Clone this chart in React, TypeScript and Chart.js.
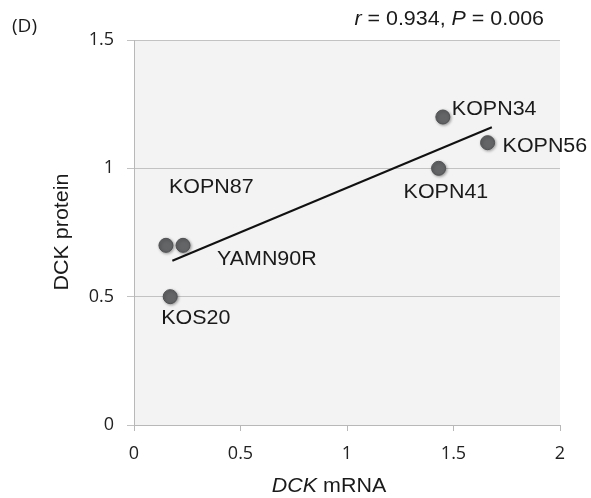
import React, { useEffect, useRef } from "react";
import { Chart, registerables } from "chart.js";

Chart.register(...registerables);

// Cell lines and their DCK expression levels
const cellLines = ["KOPN87", "YAMN90R", "KOS20", "KOPN41", "KOPN34", "KOPN56"];
const dckMrna = [0.15, 0.23, 0.17, 1.43, 1.45, 1.66];
const dckProtein = [0.7, 0.7, 0.5, 1.0, 1.2, 1.1];

// Least-squares fit line end points
const fitMrna = [0.18, 1.68];
const fitProtein = [0.64, 1.16];

// Axis ticks
const xTicks = [0, 0.5, 1, 1.5, 2];
const yTicks = [0, 0.5, 1, 1.5];

// Correlation statistics
const statR = "0.934";
const statP = "0.006";

// Label placement relative to each point (px: left edge, vertical centre)
const labelOffsets: [number, number][] = [
  [3, -58],
  [34, 14],
  [-9, 21.5],
  [-35, 24],
  [9, -7],
  [15, 4],
];

const SANS = '"Liberation Sans", Arial, sans-serif';
const TICK_FONT = '"Open Sans", sans-serif';
const STRETCH = 1.1;

type Piece = { text: string; italic?: boolean };

function drawPieces(
  ctx: CanvasRenderingContext2D,
  pieces: Piece[],
  x: number,
  y: number,
  size: number,
  align: "left" | "center" | "right"
) {
  const fontFor = (p: Piece) => `${p.italic ? "italic " : ""}${size}px ${SANS}`;
  let total = 0;
  for (const p of pieces) {
    ctx.font = fontFor(p);
    total += ctx.measureText(p.text).width;
  }
  let start = 0;
  if (align === "center") start = -total / 2;
  else if (align === "right") start = -total;
  ctx.save();
  ctx.translate(x, y);
  ctx.scale(STRETCH, 1);
  ctx.textAlign = "left";
  ctx.textBaseline = "middle";
  let cx = start;
  for (const p of pieces) {
    ctx.font = fontFor(p);
    ctx.fillText(p.text, cx, 0);
    cx += ctx.measureText(p.text).width;
  }
  ctx.restore();
}

const textPlugin = {
  id: "annotations",
  beforeDraw(chart: any) {
    const { ctx, chartArea } = chart;
    ctx.save();
    ctx.fillStyle = "#f3f3f3";
    ctx.fillRect(
      chartArea.left,
      chartArea.top,
      chartArea.right - chartArea.left,
      chartArea.bottom - chartArea.top
    );
    ctx.restore();
  },
  beforeDatasetDraw(chart: any, args: any) {
    if (args.index !== 1) return;
    const ctx = chart.ctx;
    ctx.save();
    ctx.shadowColor = "rgba(0,0,0,0.35)";
    ctx.shadowBlur = 3;
    ctx.shadowOffsetX = 1;
    ctx.shadowOffsetY = 1;
  },
  afterDatasetDraw(chart: any, args: any) {
    if (args.index !== 1) return;
    chart.ctx.restore();
  },
  afterDraw(chart: any) {
    const { ctx, scales } = chart;
    const xs = scales.x;
    const ys = scales.y;
    ctx.save();
    ctx.fillStyle = "#1a1a1a";

    // Point labels
    cellLines.forEach((name, i) => {
      const px = xs.getPixelForValue(dckMrna[i]);
      const py = ys.getPixelForValue(dckProtein[i]);
      const [dx, dy] = labelOffsets[i];
      drawPieces(ctx, [{ text: name }], px + dx, py + dy, 19.5, "left");
    });

    // Statistics
    drawPieces(
      ctx,
      [
        { text: "r", italic: true },
        { text: ` = ${statR}, ` },
        { text: "P", italic: true },
        { text: ` = ${statP}` },
      ],
      544,
      20,
      19.5,
      "right"
    );

    // X axis title
    drawPieces(
      ctx,
      [{ text: "DCK", italic: true }, { text: " mRNA" }],
      329,
      487,
      19.5,
      "center"
    );

    // Y axis title
    ctx.save();
    ctx.translate(68, 232);
    ctx.rotate(-Math.PI / 2);
    ctx.font = `19.5px ${SANS}`;
    ctx.scale(STRETCH, 1);
    ctx.textAlign = "center";
    ctx.textBaseline = "alphabetic";
    ctx.fillText("DCK protein", 0, 0);
    ctx.restore();

    // Panel letter
    ctx.font = `19px ${TICK_FONT}`;
    ctx.textAlign = "left";
    ctx.textBaseline = "middle";
    ctx.fillStyle = "#1a1a1a";
    ctx.fillText("(D)", 12, 27);
    ctx.restore();
  },
};

export default function App() {
  const canvasRef = useRef<HTMLCanvasElement | null>(null);

  useEffect(() => {
    if (!canvasRef.current) return;
    const tickFont = { family: TICK_FONT, size: 18 };
    const fmt = (v: any) => String(Number(v));
    const chart = new Chart(canvasRef.current, {
      type: "scatter",
      data: {
        datasets: [
          {
            label: "fit",
            type: "line",
            data: fitMrna.map((x, i) => ({ x, y: fitProtein[i] })),
            borderColor: "#111",
            borderWidth: 2,
            pointRadius: 0,
            fill: false,
          } as any,
          {
            label: "DCK",
            data: dckMrna.map((x, i) => ({ x, y: dckProtein[i] })),
            backgroundColor: "#646567",
            borderColor: "#505153",
            borderWidth: 1,
            pointRadius: 7,
            pointHoverRadius: 7,
          },
        ],
      },
      options: {
        animation: false,
        responsive: false,
        events: [],
        layout: { padding: { top: 40, right: 31, left: 0, bottom: 0 } },
        plugins: {
          legend: { display: false },
          tooltip: { enabled: false },
          title: { display: false },
        },
        scales: {
          x: {
            type: "linear",
            min: 0,
            max: 2,
            afterBuildTicks: (s: any) => {
              s.ticks = xTicks.map((v) => ({ value: v }));
            },
            afterFit: (s: any) => {
              s.height = 73;
            },
            grid: {
              drawOnChartArea: false,
              drawTicks: true,
              tickLength: 6,
              color: "#b8b8b8",
            },
            border: { display: true, color: "#b8b8b8" },
            ticks: { font: tickFont, color: "#222", padding: 12, maxRotation: 0, callback: fmt },
          },
          y: {
            type: "linear",
            min: 0,
            max: 1.5,
            afterBuildTicks: (s: any) => {
              s.ticks = yTicks.map((v) => ({ value: v }));
            },
            afterFit: (s: any) => {
              s.width = 134;
            },
            grid: {
              drawTicks: true,
              tickLength: 7,
              color: "#c2c2c2",
            },
            border: { display: true, color: "#b8b8b8" },
            ticks: { font: tickFont, color: "#222", padding: 13, callback: fmt },
          },
        },
      },
      plugins: [textPlugin],
    });
    return () => chart.destroy();
  }, []);

  return (
    <div style={{ position: "absolute", left: 0, top: 0, width: 591, height: 498, background: "#fff" }}>
      <canvas ref={canvasRef} width={591} height={498} style={{ width: 591, height: 498 }} />
    </div>
  );
}
